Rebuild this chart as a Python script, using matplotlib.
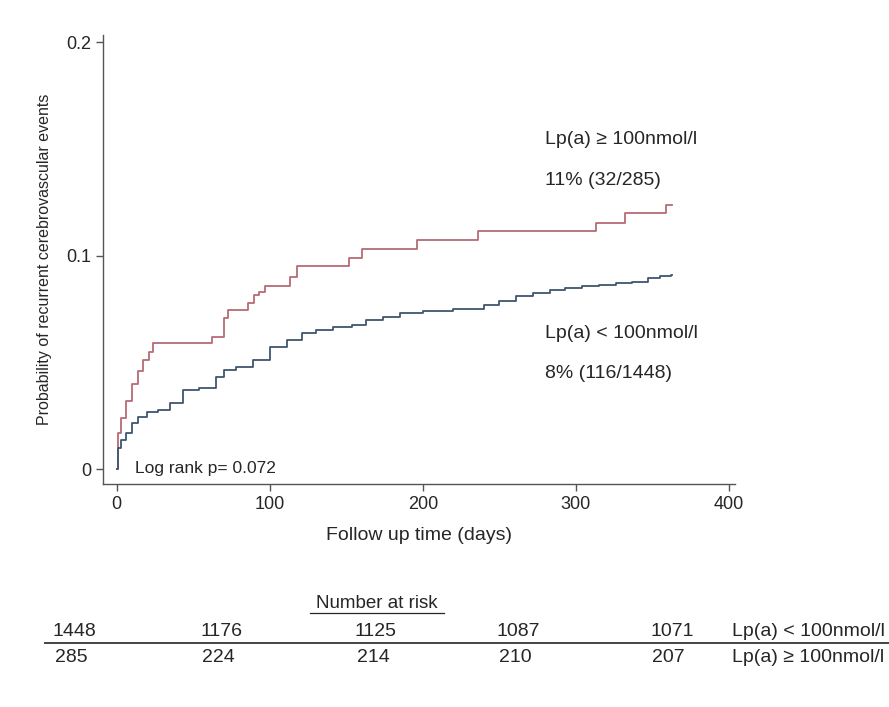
import matplotlib
matplotlib.use("Agg")
import matplotlib.pyplot as plt
from matplotlib.lines import Line2D

plt.rcParams['font.family'] = ['Liberation Sans', 'DejaVu Sans']

# Kaplan-Meier style cumulative incidence (step times in days, probability)
high_t = [0, 1, 3, 6, 10, 14, 17, 21, 24, 62, 70, 73, 86, 90, 93, 97, 113, 118, 152, 160, 196, 236, 313, 332, 359, 363]
high_y = [0, 0.017, 0.024, 0.032, 0.040, 0.046, 0.051, 0.055, 0.059, 0.062, 0.071, 0.0746, 0.078, 0.0817, 0.083,
          0.086, 0.090, 0.095, 0.099, 0.103, 0.1075, 0.1117, 0.1155, 0.120, 0.124, 0.124]

low_t = [0, 1, 3, 6, 10, 14, 20, 27, 35, 43, 54, 65, 70, 78, 89, 100, 111, 121, 130, 141, 154, 163, 174, 185,
         200, 220, 240, 250, 261, 272, 283, 293, 304, 315, 326, 337, 347, 355, 362, 363]
low_y = [0, 0.010, 0.0136, 0.017, 0.0216, 0.0244, 0.0268, 0.0277, 0.031, 0.037, 0.038, 0.043, 0.0465, 0.048,
         0.051, 0.057, 0.0606, 0.064, 0.0653, 0.0667, 0.0676, 0.070, 0.0714, 0.0732, 0.074, 0.075, 0.077, 0.0789,
         0.081, 0.0826, 0.084, 0.085, 0.0857, 0.0864, 0.087, 0.0878, 0.0897, 0.0905, 0.091, 0.091]

x_ticks = [0, 100, 200, 300, 400]
y_ticks = [0, 0.1, 0.2]
y_ticklabels = ['0', '0.1', '0.2']

risk_low = [1448, 1176, 1125, 1087, 1071]
risk_high = [285, 224, 214, 210, 207]
label_low = 'Lp(a) < 100nmol/l'
label_high = 'Lp(a) \u2265 100nmol/l'
pct_low = '8% (116/1448)'
pct_high = '11% (32/285)'

red = '#b86a74'
blue = '#3f5670'
txt = '#262626'

fig = plt.figure(figsize=(8.89, 7.07), dpi=100)
ax = fig.add_axes([103/889, 1-484/707, (735-103)/889, (484-35)/707])

ax.step(high_t, high_y, where='post', color=red, lw=1.3)
ax.step(low_t, low_y, where='post', color=blue, lw=1.3)

ax.set_xlim(-9, 404)
ax.set_ylim(-0.007, 0.2035)
ax.set_xticks(x_ticks)
ax.set_yticks(y_ticks)
ax.set_yticklabels(y_ticklabels)
for s in ['top', 'right']:
    ax.spines[s].set_visible(False)
for s in ['left', 'bottom']:
    ax.spines[s].set_color('#555555')
    ax.spines[s].set_linewidth(1.0)
ax.tick_params(colors='#555555', labelcolor=txt, labelsize=13, length=5, width=1)
ax.set_xlabel('Follow up time (days)', fontsize=14, color=txt, labelpad=10)
ax.set_ylabel('Probability of recurrent cerebrovascular events', fontsize=11.5, color=txt, labelpad=10)

ax.text(12, 0.0005, 'Log rank p= 0.072', fontsize=12.5, color=txt, va='center', ha='left')
ax.text(280, 0.1545, label_high, fontsize=14, color=txt, va='center')
ax.text(280, 0.1355, pct_high, fontsize=14, color=txt, va='center')
ax.text(280, 0.0635, label_low, fontsize=14, color=txt, va='center')
ax.text(280, 0.0447, pct_low, fontsize=14, color=txt, va='center')

# Number at risk table
fig.text(377/889, 1-603/707, 'Number at risk', fontsize=13.5, color=txt, ha='center', va='center')
fig.add_artist(Line2D([310/889, 444/889], [1-613/707, 1-613/707], color=txt, lw=0.9))
col_x = [53, 200, 355, 497, 650]
for cx, a, b in zip(col_x, risk_low, risk_high):
    fig.text(cx/889, 1-632/707, str(a), fontsize=14, color=txt, ha='left', va='center')
    fig.text((cx + 2)/889, 1-658/707, str(b), fontsize=14, color=txt, ha='left', va='center')
fig.text(732/889, 1-632/707, label_low, fontsize=14, color=txt, ha='left', va='center')
fig.text(732/889, 1-658/707, label_high, fontsize=14, color=txt, ha='left', va='center')
fig.add_artist(Line2D([45/889, 1.0], [1-643/707, 1-643/707], color='#444444', lw=1.4))

fig.savefig('out.png', dpi=100, facecolor='white')
